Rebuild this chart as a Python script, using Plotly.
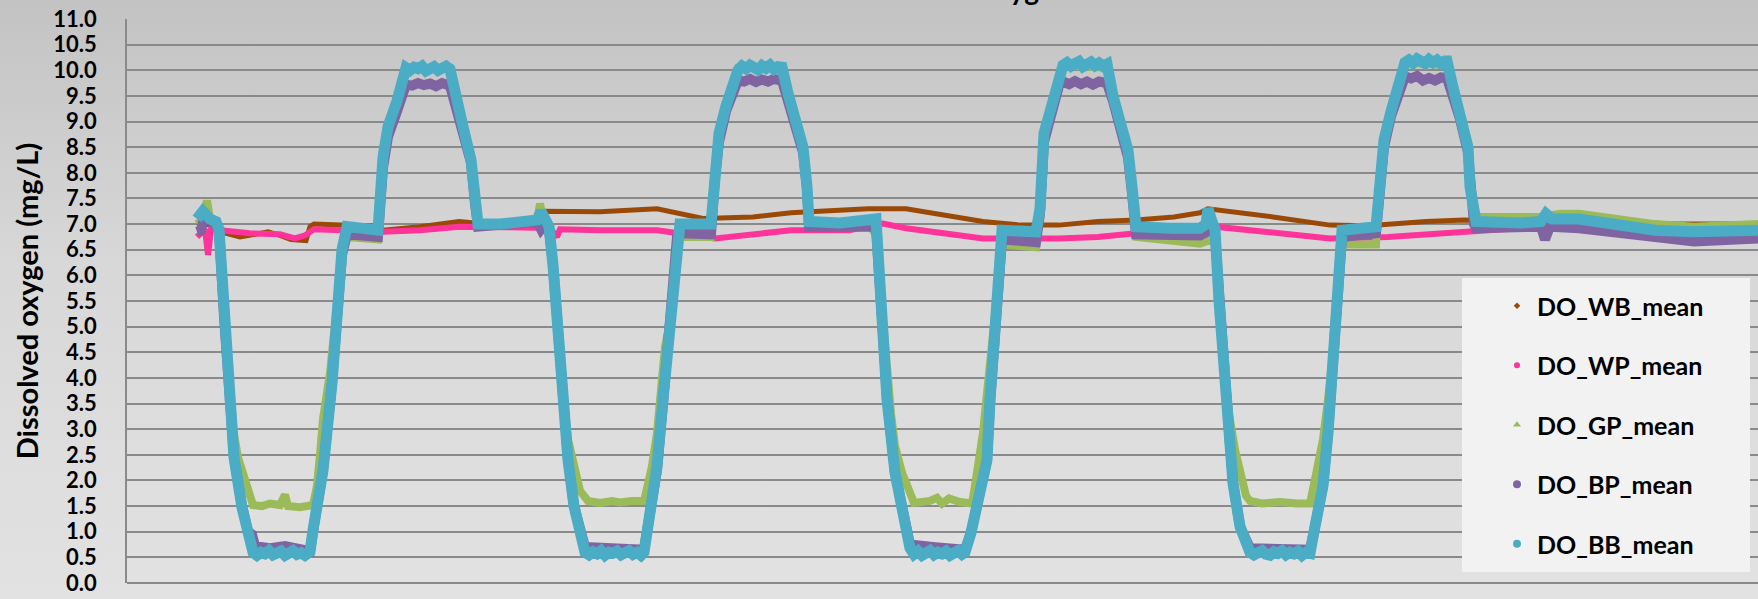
import base64
import plotly.graph_objects as go

# Elapsed time (h) and dissolved-oxygen readings (mg/L) for each probe
BB_t = [7.0, 7.6, 8.3, 8.9, 9.2, 9.7, 10.3, 10.7, 11.5, 12.1, 12.6,
        13.0, 13.4, 13.8, 14.2, 14.6, 15.0, 15.4, 15.8, 16.2, 16.6, 17.0, 17.4, 17.8, 18.3,
        18.6, 19.1, 19.6, 20.5, 21.0, 21.5, 22.0, 23.3, 25.1, 25.6, 26.1, 27.0, 27.6,
        27.9, 28.3, 28.7, 29.1, 29.5, 29.9, 30.3, 30.7, 31.1, 31.5, 31.9, 32.3,
        32.8, 33.6, 34.4, 34.8, 35.1, 37.3, 39.3, 41.0, 41.4, 41.8, 42.2, 42.6, 43.1, 43.6,
        44.1, 44.7, 45.3, 45.8,
        46.2, 46.6, 47.0, 47.4, 47.8, 48.2, 48.6, 49.0, 49.4, 49.8, 50.2, 50.6, 51.0, 51.4, 51.7,
        52.3, 53.0, 53.6, 54.2, 54.6, 55.0, 55.3, 58.4, 58.8, 59.2, 59.9, 60.5, 61.1,
        61.5, 61.9, 62.3, 62.7, 63.1, 63.5, 63.9, 64.3, 64.7, 65.1, 65.5,
        66.1, 66.8, 67.6, 68.0, 68.2, 71.3, 73.3, 74.9, 75.4, 76.0, 76.8, 77.5, 78.3,
        78.7, 79.1, 79.5, 79.9, 80.3, 80.7, 81.1, 81.5, 81.9, 82.3, 82.7, 83.1, 83.5, 83.8,
        84.4, 85.2, 86.0, 86.3, 86.7, 87.1, 87.5, 90.9, 91.3, 91.7, 92.5, 93.2, 93.6,
        94.0, 94.4, 94.8, 95.2, 95.6, 96.0, 96.4, 96.8, 97.2, 97.6, 98.0,
        98.6, 99.3, 100.1, 100.5, 100.9, 104.3, 107.3, 107.9, 108.1, 108.5, 108.8,
        109.2, 109.8, 110.2, 110.6, 111.3, 112.3,
        112.7, 113.1, 113.5, 113.9, 114.3, 114.7, 115.1, 115.5, 115.9, 116.3, 116.7, 117.1, 117.5, 117.9, 118.3,
        118.8, 119.6, 120.1, 120.5, 120.9, 121.5, 124.9, 125.1, 125.7, 126.4, 127.2, 127.8,
        128.2, 128.6, 129.0, 129.4, 129.8, 130.2, 130.6, 131.0, 131.4, 131.8, 132.0,
        132.6, 133.3, 134.1, 134.3, 134.7, 134.9, 139.3, 141.4, 141.9, 142.5, 145.2,
        149.0, 152.8, 156.7, 160.5, 163.1]
BB_v = [7.10, 7.25, 7.10, 7.05, 6.90, 5.2, 3.5, 2.45, 1.47, 0.95, 0.60,
        0.54, 0.60, 0.57, 0.63, 0.55, 0.58, 0.62, 0.54, 0.60, 0.63, 0.56, 0.59, 0.54, 0.61,
        1.03, 1.6, 2.2, 3.9, 5.4, 6.5, 6.95, 6.90, 6.88, 8.3, 8.9, 9.4, 9.95,
        10.05, 10.00, 10.06, 10.03, 10.08, 9.99, 10.04, 10.07, 10.00, 10.05, 10.08, 10.02,
        9.5, 8.9, 8.25, 7.47, 7.0, 7.0, 7.05, 7.08, 7.25, 7.05, 6.95, 6.2, 4.8, 3.4,
        2.4, 1.5, 0.9, 0.6,
        0.55, 0.61, 0.57, 0.63, 0.54, 0.60, 0.58, 0.62, 0.55, 0.59, 0.63, 0.56, 0.60, 0.54, 0.60,
        1.37, 2.28, 3.58, 4.88, 5.65, 6.88, 7.0, 7.0, 8.1, 8.77, 9.3, 9.67, 10.0,
        10.08, 10.03, 10.10, 10.05, 10.01, 10.09, 10.04, 10.10, 10.02, 10.07, 10.06,
        9.55, 9.03, 8.5, 7.73, 7.05, 7.02, 7.05, 7.1, 5.5, 3.58, 2.15, 1.37, 0.68,
        0.56, 0.62, 0.54, 0.59, 0.63, 0.55, 0.60, 0.57, 0.62, 0.54, 0.60, 0.63, 0.56, 0.60,
        0.98, 1.63, 2.4, 3.58, 4.88, 5.9, 6.88, 6.85, 7.3, 8.77, 9.4, 9.87, 10.1,
        10.15, 10.08, 10.13, 10.17, 10.07, 10.12, 10.16, 10.09, 10.14, 10.08, 10.12,
        9.5, 9.03, 8.44, 7.73, 6.95, 6.92, 6.92, 7.0, 7.3, 7.05, 6.9,
        5.5, 4.2, 2.93, 1.95, 1.1, 0.6,
        0.55, 0.60, 0.63, 0.56, 0.54, 0.61, 0.58, 0.63, 0.55, 0.60, 0.57, 0.62, 0.54, 0.60, 0.58,
        1.1, 1.9, 2.93, 4.2, 5.5, 6.88, 6.95, 7.47, 8.64, 9.2, 9.8, 10.15,
        10.20, 10.14, 10.22, 10.16, 10.13, 10.21, 10.15, 10.20, 10.13, 10.18, 10.18,
        9.67, 9.2, 8.5, 7.73, 7.14, 7.05, 7.02, 7.05, 7.2, 7.1, 7.1,
        7.0, 6.88, 6.85, 6.85, 6.88]

BP_t = [7.0, 7.4, 7.8, 8.3, 8.9, 9.2, 9.7, 10.3, 10.7, 11.5, 12.1, 12.5, 12.8,
        14.3, 15.8, 17.3, 18.3, 18.6, 19.1, 19.6, 20.5, 21.0, 21.5, 22.0, 25.1,
        25.6, 26.1, 27.0, 27.9, 28.5, 29.1, 29.7, 30.3, 30.9, 31.5, 32.3,
        32.8, 33.6, 34.4, 34.8, 35.1, 41.0, 41.4, 41.8, 42.2, 42.6, 43.1, 43.6, 44.1,
        44.7, 45.3, 45.8, 51.7, 52.3, 53.0, 53.6, 54.2, 54.6, 55.0, 55.3, 58.4,
        58.8, 59.2, 59.9, 60.5, 61.1, 61.7, 62.3, 62.9, 63.5, 64.1, 64.7, 65.5,
        66.1, 66.8, 67.6, 68.0, 68.2, 74.9, 75.4, 76.0, 76.8, 77.5, 78.3, 80.8, 83.8,
        84.4, 85.2, 86.0, 86.3, 86.7, 87.1, 87.5, 90.9, 91.3, 91.7, 92.5, 93.2, 93.6,
        94.2, 94.8, 95.4, 96.0, 96.6, 97.2, 98.0,
        98.6, 99.3, 100.1, 100.5, 100.9, 107.3, 107.9, 108.5, 108.8, 109.2, 109.8,
        110.2, 110.6, 111.3, 112.3, 118.3, 118.8, 119.6, 120.1, 120.5, 120.9, 121.5,
        124.9, 125.1, 125.7, 126.4, 127.2, 127.8, 128.4, 129.0, 129.6, 130.2, 130.8,
        131.4, 132.0, 132.6, 133.3, 134.1, 134.3, 134.7, 134.9, 141.4, 141.8, 142.3,
        145.2, 149.0, 152.8, 156.7, 163.1]
BP_v = [6.85, 6.88, 7.2, 7.08, 7.0, 6.9, 5.2, 3.5, 2.45, 1.5, 1.0, 0.95, 0.72,
        0.68, 0.72, 0.66, 0.62, 1.0, 1.6, 2.2, 3.9, 5.4, 6.4, 6.8, 6.75,
        8.1, 8.7, 9.2, 9.72, 9.70, 9.75, 9.71, 9.74, 9.69, 9.75, 9.7,
        9.35, 8.8, 8.2, 7.4, 6.95, 7.05, 6.9, 7.0, 6.9, 6.2, 4.8, 3.4, 2.4,
        1.5, 0.95, 0.7, 0.65, 1.3, 2.2, 3.5, 4.8, 5.6, 6.75, 6.82, 6.8,
        7.9, 8.6, 9.2, 9.5, 9.8, 9.78, 9.83, 9.77, 9.82, 9.78, 9.83, 9.8,
        9.4, 8.9, 8.4, 7.7, 6.95, 6.95, 5.5, 3.6, 2.15, 1.37, 0.75, 0.7, 0.65,
        0.98, 1.6, 2.4, 3.5, 4.8, 5.8, 6.7, 6.65, 7.2, 8.6, 9.25, 9.7, 9.78,
        9.73, 9.79, 9.73, 9.78, 9.72, 9.78, 9.75,
        9.4, 8.9, 8.3, 7.6, 6.8, 6.78, 6.85, 6.9, 6.8, 5.5, 4.2,
        2.93, 1.95, 1.1, 0.68, 0.65, 1.1, 1.9, 2.93, 4.2, 5.5, 6.75,
        6.82, 7.3, 8.5, 9.1, 9.6, 9.88, 9.84, 9.89, 9.8, 9.85, 9.8,
        9.86, 9.85, 9.5, 9.05, 8.4, 7.65, 7.0, 6.92, 6.95, 6.7, 6.95,
        6.92, 6.82, 6.72, 6.66, 6.72]

GP_t = [7.0, 7.6, 8.0, 8.3, 8.9, 9.2, 9.7, 10.3, 10.7, 11.1, 11.8, 12.3, 12.6,
        13.5, 14.3, 15.3, 15.8, 16.1, 17.3, 18.6, 19.0, 19.3, 19.6, 20.3, 20.7,
        21.0, 21.5, 22.0, 25.1, 25.6, 26.1, 27.0, 27.6, 27.9, 32.3, 32.8, 33.6,
        34.4, 34.8, 35.1, 41.0, 41.3, 41.7, 42.2, 42.6, 43.1, 43.6, 44.1, 44.7,
        45.3, 46.1, 47.3, 48.5, 49.3, 50.5, 51.7, 51.9, 52.5, 53.0, 53.4, 53.8,
        54.2, 54.6, 55.0, 58.4, 58.8, 59.2, 59.9, 60.5, 61.1, 65.5, 66.1, 66.8,
        67.6, 68.0, 68.2, 74.3, 74.9, 75.4, 76.0, 76.4, 76.8, 77.5, 78.3, 78.7,
        80.3, 81.0, 81.5, 82.2, 83.3, 84.5, 84.8, 85.6, 86.1, 86.7, 87.1, 87.5,
        90.9, 91.3, 91.7, 92.5, 93.2, 93.6, 98.0, 98.6, 99.3, 100.1, 100.5, 100.9,
        107.3, 107.9, 108.5, 108.8, 109.2, 109.8, 110.2, 110.8, 111.9, 112.3,
        113.5, 115.3, 117.0, 118.3, 118.8, 119.6, 120.1, 120.5, 120.9, 121.5,
        124.9, 125.1, 125.7, 126.4, 127.2, 127.8, 132.0, 132.6, 133.3, 134.1,
        134.3, 134.7, 135.2, 141.4, 143.3, 145.2, 149.0, 152.8, 156.7, 163.1]
GP_v = [7.0, 7.1, 7.46, 7.1, 7.05, 6.9, 5.2, 3.6, 2.9, 2.45, 2.0, 1.7, 1.52,
        1.5, 1.55, 1.52, 1.72, 1.5, 1.48, 1.52, 1.9, 2.5, 3.2, 4.1, 4.8,
        5.4, 6.4, 6.75, 6.7, 8.3, 8.9, 9.35, 9.9, 10.05, 10.05, 9.5, 8.9,
        8.25, 7.45, 6.95, 7.05, 7.4, 7.0, 6.95, 6.2, 4.8, 3.6, 2.8, 2.2,
        1.8, 1.6, 1.56, 1.6, 1.57, 1.6, 1.6, 1.76, 2.28, 2.93, 3.9, 4.6,
        5.0, 5.65, 6.75, 6.75, 8.0, 8.7, 9.3, 9.65, 10.05, 10.05, 9.5, 9.0,
        8.45, 7.7, 6.95, 6.95, 6.8, 5.6, 3.9, 3.3, 2.67, 2.15, 1.76, 1.56,
        1.6, 1.66, 1.55, 1.65, 1.58, 1.55, 1.9, 2.93, 3.9, 4.88, 5.8, 6.6,
        6.55, 7.2, 8.7, 9.35, 9.85, 10.1, 10.05, 9.45, 8.95, 8.4, 7.7, 6.75,
        6.62, 6.65, 6.7, 6.65, 5.5, 4.2, 3.3, 2.6, 1.7, 1.6,
        1.55, 1.58, 1.55, 1.55, 2.02, 2.8, 3.58, 4.3, 5.5, 6.6,
        6.6, 7.4, 8.6, 9.2, 9.75, 10.15, 10.1, 9.6, 9.15, 8.45,
        7.7, 7.1, 7.14, 7.14, 7.2, 7.2, 7.1, 7.0, 6.95, 7.0]

WB_t = [7.0, 8.3, 9.3, 11.3, 12.8, 14.1, 15.3, 16.4, 17.9, 18.3, 18.7, 21.3, 24.8,
        25.6, 29.3, 33.2, 34.8, 40.9, 41.6, 47.3, 53.0, 57.6, 62.6, 66.4, 74.1,
        77.9, 81.7, 85.6, 89.4, 93.2, 97.1, 100.9, 104.7, 107.3, 108.1, 110.8,
        114.6, 120.3, 124.1, 129.9, 133.7, 141.4, 152.3, 163.1]
WB_v = [6.95, 7.0, 6.85, 6.75, 6.8, 6.85, 6.78, 6.7, 6.68, 6.95, 7.0, 6.98, 6.96,
        6.88, 6.95, 7.05, 7.02, 7.03, 7.25, 7.24, 7.3, 7.11, 7.14, 7.22, 7.3,
        7.3, 7.18, 7.05, 6.98, 6.98, 7.05, 7.08, 7.14, 7.22, 7.3, 7.24,
        7.14, 6.98, 6.97, 7.05, 7.08, 7.05, 7.0, 7.0]

WP_t = [7.0, 7.8, 8.1, 8.4, 8.8, 9.3, 12.3, 15.3, 16.8, 17.8, 18.7, 25.6, 29.3,
        33.2, 40.9, 42.4, 43.0, 43.3, 47.3, 53.0, 58.8, 64.5, 66.4, 72.2, 75.6,
        77.9, 81.7, 85.6, 93.2, 97.1, 100.9, 107.3, 108.8, 114.6, 120.3, 126.1,
        133.7, 141.4, 152.3, 163.1]
WP_v = [6.75, 6.9, 6.4, 6.9, 6.9, 6.88, 6.82, 6.8, 6.72, 6.78, 6.9, 6.85, 6.88,
        6.95, 6.93, 6.9, 6.75, 6.9, 6.88, 6.88, 6.72, 6.82, 6.88, 6.88, 7.01,
        6.92, 6.82, 6.72, 6.72, 6.75, 6.82, 6.85, 6.95, 6.82, 6.72, 6.75,
        6.85, 6.95, 6.9, 6.9]

Y_TICKS = [0.0, 0.5, 1.0, 1.5, 2.0, 2.5, 3.0, 3.5, 4.0, 4.5, 5.0, 5.5,
           6.0, 6.5, 7.0, 7.5, 8.0, 8.5, 9.0, 9.5, 10.0, 10.5, 11.0]

FONT = "Lato"
GRID = "#8a8a8a"

# name, times, values, colour, line width, legend symbol, legend size
series = [
    ("DO_WB_mean", WB_t, WB_v, "#9a4a06", 5, "diamond", 5),
    ("DO_WP_mean", WP_t, WP_v, "#ff3399", 6, "circle", 6),
    ("DO_GP_mean", GP_t, GP_v, "#9bbb59", 8, "triangle-up", 7),
    ("DO_BP_mean", BP_t, BP_v, "#8064a2", 10, "circle", 8),
    ("DO_BB_mean", BB_t, BB_v, "#4bacc6", 11, "circle", 8),
]

fig = go.Figure()
for name, t, v, col, w, sym, ms in series:
    fig.add_trace(go.Scatter(x=t, y=v, mode="lines", name=name, showlegend=False,
                             line=dict(color=col, width=w), hoverinfo="skip"))
for i, (name, t, v, col, w, sym, ms) in enumerate(series):
    fig.add_trace(go.Scatter(x=[None], y=[None], mode="markers", name=name,
                             legendgroup=f"g{i}",
                             marker=dict(color=col, symbol=sym, size=ms)))

# soft vertical grey gradient behind the whole chart
svg = ('<svg xmlns="http://www.w3.org/2000/svg" width="10" height="100" preserveAspectRatio="none">'
       '<defs><linearGradient id="g" x1="0" y1="0" x2="0" y2="1">'
       '<stop offset="0" stop-color="#c3c3c3"/><stop offset="0.45" stop-color="#d8d8d8"/>'
       '<stop offset="1" stop-color="#e2e2e2"/></linearGradient></defs>'
       '<rect width="10" height="100" fill="url(#g)"/></svg>')
bg_src = "data:image/svg+xml;base64," + base64.b64encode(svg.encode()).decode()

W, H = 1758, 599
L, R, T, B = 127, 0, 19, 16
pw, ph = W - L - R, H - T - B

def px_x(px):
    return (px - L) / pw

def px_y(py):
    return (H - B - py) / ph

fig.update_layout(
    width=W, height=H,
    margin=dict(l=L, r=R, t=T, b=B),
    paper_bgcolor="#d8d8d8",
    plot_bgcolor="rgba(0,0,0,0)",
    images=[dict(source=bg_src, xref="paper", yref="paper",
                 x=px_x(0), y=px_y(0), sizex=px_x(W) - px_x(0), sizey=px_y(0) - px_y(H),
                 xanchor="left", yanchor="top", sizing="stretch", layer="below")],
    shapes=[dict(type="rect", xref="paper", yref="paper", layer="above",
                 x0=px_x(1462), x1=px_x(1750), y0=px_y(572), y1=px_y(278),
                 fillcolor="#f2f2f2", line=dict(width=0))],
    xaxis=dict(range=[0, 163.1], showgrid=False, zeroline=False, showline=False,
               showticklabels=False, ticks=""),
    yaxis=dict(range=[0, 11], tickvals=Y_TICKS, tickformat=".1f",
               showgrid=True, gridcolor=GRID, gridwidth=1.5,
               zeroline=True, zerolinecolor=GRID, zerolinewidth=1.5,
               showline=True, linecolor=GRID, linewidth=1.5,
               ticks="outside", ticklen=24, tickcolor="rgba(0,0,0,0)",
               tickfont=dict(family=FONT, size=22, color="black", weight="bold"),
               title=dict(text="Dissolved oxygen (mg/L)", standoff=6,
                          font=dict(family=FONT, size=29, color="black", weight="bold"))),
    legend=dict(x=px_x(1497), y=px_y(283), xanchor="left", yanchor="top",
                bgcolor="rgba(0,0,0,0)", borderwidth=0, tracegroupgap=24,
                font=dict(family=FONT, size=25, color="black", weight="bold"),
                itemsizing="trace"),
    annotations=[dict(text="Dissolved oxygen", xref="paper", yref="paper",
                      x=px_x(961), y=px_y(8), xanchor="center", yanchor="bottom",
                      showarrow=False,
                      font=dict(family=FONT, size=28, color="black", weight="bold"))],
)

fig.write_html("out.html")
